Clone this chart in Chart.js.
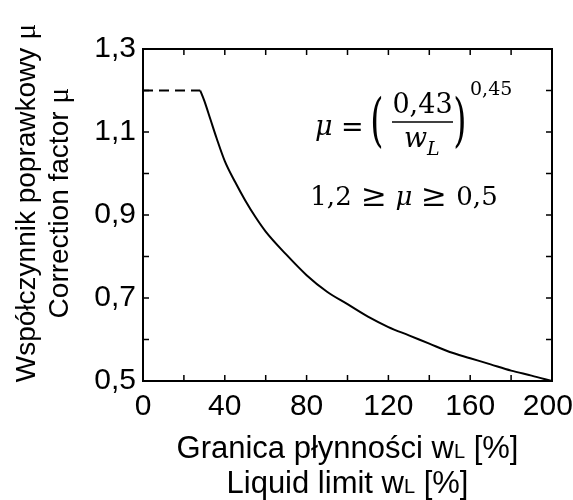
<!DOCTYPE html>
<html>
<head>
<meta charset="utf-8">
<script src="https://cdn.jsdelivr.net/npm/chart.js@4.4.0/dist/chart.umd.min.js"></script>
<style>
body { margin: 0; background: #fff; }
</style>
</head>
<body>
<canvas id="myChart" width="573" height="500"></canvas>
<script>
// liquid limit wL [%] and correction factor mu
const wL = [28, 30, 33, 36, 40, 45, 50, 55, 60, 70, 80, 90, 100, 110, 120, 130, 140, 150, 160, 170, 180, 190, 200];
const mu = [1.2, 1.175, 1.13, 1.085, 1.03, 0.98, 0.935, 0.895, 0.86, 0.805, 0.755, 0.715, 0.685, 0.655, 0.63, 0.61, 0.59, 0.57, 0.555, 0.54, 0.525, 0.513, 0.5];
// upper cap mu = 1,2 (dashed)
const capX = [0, 28];
const capY = [1.2, 1.2];
// labelled ticks
const xLabels = [0, 40, 80, 120, 160, 200];
const yLabels = [0.5, 0.7, 0.9, 1.1, 1.3];

const SANS = '"Liberation Sans", Arial, sans-serif';
const SERIF = '"DejaVu Serif", serif';

function toPoints(xs, ys) {
    let pts = [];
    for (let i = 0; i < xs.length; i++) {
        pts.push({ x: xs[i], y: ys[i] });
    }
    return pts;
}

// draw pieces of text with different fonts on one baseline
function drawRuns(ctx, runs, x, y, align) {
    let total = 0;
    runs.forEach(r => {
        ctx.font = r.font;
        r.w = ctx.measureText(r.text).width;
        total += r.w;
    });
    let cx = align === 'center' ? x - total / 2 : x;
    ctx.textAlign = 'left';
    ctx.textBaseline = 'alphabetic';
    runs.forEach(r => {
        ctx.font = r.font;
        ctx.fillText(r.text, cx, y + (r.dy || 0));
        cx += r.w;
    });
}

const decor = {
    id: 'decor',
    afterDraw(chart) {
        const ctx = chart.ctx;
        const a = chart.chartArea;
        const xs = chart.scales.x;
        const ys = chart.scales.y;
        ctx.save();
        ctx.strokeStyle = '#000';
        ctx.fillStyle = '#000';

        // inward ticks on all four sides
        ctx.lineWidth = 1.5;
        ctx.beginPath();
        xs.ticks.forEach(t => {
            const px = xs.getPixelForValue(t.value);
            ctx.moveTo(px, a.bottom); ctx.lineTo(px, a.bottom - 6);
            ctx.moveTo(px, a.top); ctx.lineTo(px, a.top + 6);
        });
        ys.ticks.forEach(t => {
            const py = ys.getPixelForValue(t.value);
            ctx.moveTo(a.left, py); ctx.lineTo(a.left + 6, py);
            ctx.moveTo(a.right, py); ctx.lineTo(a.right - 6, py);
        });
        ctx.stroke();

        // frame
        ctx.lineWidth = 2;
        ctx.strokeRect(a.left, a.top, a.width, a.height);

        // x title
        const cxT = (a.left + a.right) / 2;
        drawRuns(ctx, [
            { text: 'Granica płynności w', font: '31px ' + SANS },
            { text: 'L', font: '20px ' + SANS },
            { text: ' [%]', font: '31px ' + SANS }
        ], cxT, 458, 'center');
        drawRuns(ctx, [
            { text: 'Liquid limit w', font: '31px ' + SANS },
            { text: 'L', font: '20px ' + SANS },
            { text: ' [%]', font: '31px ' + SANS }
        ], cxT, 493, 'center');

        // y title
        ctx.save();
        ctx.translate(35, 203);
        ctx.rotate(-Math.PI / 2);
        drawRuns(ctx, [
            { text: 'Współczynnik poprawkowy ', font: '28px ' + SANS },
            { text: 'μ', font: '30px "Liberation Serif", serif' }
        ], 0, 0, 'center');
        ctx.restore();
        ctx.save();
        ctx.translate(68, 203);
        ctx.rotate(-Math.PI / 2);
        drawRuns(ctx, [
            { text: 'Correction factor ', font: '28px ' + SANS },
            { text: 'μ', font: '30px "Liberation Serif", serif' }
        ], 0, 0, 'center');
        ctx.restore();

        // formula
        ctx.textAlign = 'left';
        ctx.textBaseline = 'alphabetic';
        ctx.font = 'italic 27px ' + SERIF;
        ctx.fillText('μ', 315, 135);
        ctx.font = '27px ' + SERIF;
        ctx.fillText('=', 341, 136);
        // big parentheses
        ctx.save();
        ctx.font = '34px ' + SERIF;
        ctx.translate(0, 125);
        ctx.scale(1, 1.7);
        ctx.textBaseline = 'middle';
        ctx.textAlign = 'center';
        ctx.fillText('(', 377, 0);
        ctx.fillText(')', 460, 0);
        ctx.restore();
        ctx.textAlign = 'center';
        ctx.font = '27px ' + SERIF;
        ctx.fillText('0,43', 422.5, 113);
        ctx.lineWidth = 1.5;
        ctx.beginPath();
        ctx.moveTo(392, 122); ctx.lineTo(453, 122);
        ctx.stroke();
        ctx.textAlign = 'left';
        ctx.font = 'italic 27px ' + SERIF;
        ctx.fillText('w', 404, 147);
        ctx.font = 'italic 19px ' + SERIF;
        ctx.fillText('L', 427, 155);
        ctx.font = '19px ' + SERIF;
        ctx.fillText('0,45', 470, 95);

        // limits
        ctx.textAlign = 'center';
        ctx.font = '26px ' + SERIF;
        ctx.fillText('1,2', 331, 205);
        ctx.fillText('0,5', 477, 205);
        ctx.font = '31px ' + SERIF;
        ctx.fillText('≥', 374, 206);
        ctx.fillText('≥', 434, 206);
        ctx.font = 'italic 26px ' + SERIF;
        ctx.fillText('μ', 404, 205);
        ctx.restore();
    }
};

new Chart('myChart', {
    type: 'line',
    data: {
        datasets: [
            {
                data: toPoints(wL, mu),
                borderColor: '#000',
                borderWidth: 2,
                pointRadius: 0,
                cubicInterpolationMode: 'monotone',
                fill: false
            },
            {
                data: toPoints(capX, capY),
                borderColor: '#000',
                borderWidth: 2,
                borderDash: [10, 6],
                pointRadius: 0,
                fill: false
            }
        ]
    },
    options: {
        responsive: false,
        animation: false,
        devicePixelRatio: 1,
        layout: { padding: { top: 49, right: 21, left: 0, bottom: 0 } },
        plugins: {
            legend: { display: false },
            tooltip: { enabled: false }
        },
        scales: {
            x: {
                type: 'linear',
                min: 0,
                max: 200,
                grid: { display: false, drawTicks: false },
                border: { display: false },
                ticks: {
                    stepSize: 20,
                    autoSkip: false,
                    maxRotation: 0,
                    padding: 8,
                    color: '#000',
                    font: { family: SANS, size: 30 },
                    // trailing space keeps the last label inside the canvas
                    callback: v => xLabels.includes(v) ? (v === 200 ? '200 ' : String(v)) : ''
                },
                afterFit: s => { s.height = 119; s.paddingLeft = 0; s.paddingRight = 0; }
            },
            y: {
                min: 0.5,
                max: 1.3,
                grid: { display: false, drawTicks: false },
                border: { display: false },
                ticks: {
                    stepSize: 0.1,
                    autoSkip: false,
                    padding: 7,
                    color: '#000',
                    font: { family: SANS, size: 30 },
                    callback: v => {
                        const t = yLabels.find(l => Math.abs(l - v) < 1e-6);
                        return t === undefined ? '' : t.toFixed(1).replace('.', ',');
                    }
                },
                afterFit: s => { s.width = 143; s.paddingTop = 0; s.paddingBottom = 0; }
            }
        }
    },
    plugins: [decor]
});
</script>
</body>
</html>
